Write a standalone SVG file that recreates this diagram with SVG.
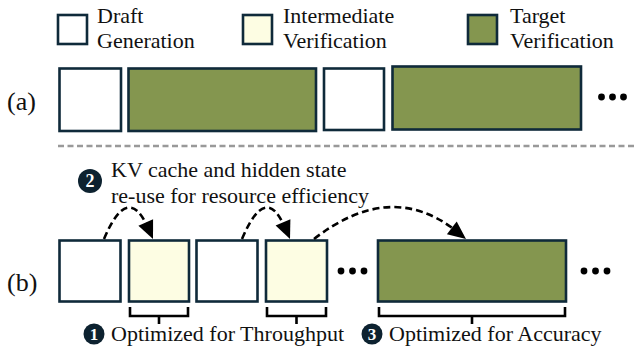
<svg xmlns="http://www.w3.org/2000/svg" width="634" height="354" viewBox="0 0 634 354">
<rect width="634" height="354" fill="#fff"/>

<g id="legend" stroke="#0f2a3a" stroke-width="2.6">
<rect x="58" y="15" width="29" height="29" fill="#ffffff"/>
<rect x="243" y="15" width="29" height="29" fill="#fdfde3"/>
<rect x="468" y="15" width="29" height="29" fill="#84964f"/>
</g>
<text x="97" y="23" font-family="Liberation Serif" font-size="22" fill="#111">Draft</text>
<text x="97" y="48" font-family="Liberation Serif" font-size="22" fill="#111">Generation</text>
<text x="283" y="23" font-family="Liberation Serif" font-size="22" fill="#111">Intermediate</text>
<text x="283" y="48" font-family="Liberation Serif" font-size="22" fill="#111">Verification</text>
<text x="510" y="23" font-family="Liberation Serif" font-size="22" fill="#111">Target</text>
<text x="510" y="48" font-family="Liberation Serif" font-size="22" fill="#111">Verification</text>

<text x="7" y="110" font-family="Liberation Serif" font-size="26" fill="#111">(a)</text>
<g id="row-a" stroke="#0f2a3a" stroke-width="2.6">
<rect id="a1" x="59.5" y="68.5" width="61.5" height="62.5" fill="#ffffff"/>
<rect id="a2" x="128.5" y="68.5" width="187.5" height="62.5" fill="#84964f"/>
<rect id="a3" x="324" y="68.5" width="60" height="61.5" fill="#ffffff"/>
<rect id="a4" x="392.5" y="66.5" width="188.5" height="63" fill="#84964f"/>
</g>
<g id="dots-a" fill="#000">
<circle cx="601.5" cy="97" r="3.4"/>
<circle cx="612.5" cy="97" r="3.4"/>
<circle cx="623.5" cy="97" r="3.4"/>
</g>

<line x1="58" y1="146" x2="634" y2="146" stroke="#999" stroke-width="2.4" stroke-dasharray="6 3.5"/>

<text x="7" y="291" font-family="Liberation Serif" font-size="26" fill="#111">(b)</text>
<g id="row-b" stroke="#0f2a3a" stroke-width="2.6">
<rect id="b1" x="59.5" y="240.5" width="61" height="61" fill="#ffffff"/>
<rect id="b2" x="129" y="240.5" width="60" height="61" fill="#fdfde3"/>
<rect id="b3" x="196.5" y="240.5" width="61" height="61" fill="#ffffff"/>
<rect id="b4" x="266" y="240.5" width="61" height="61" fill="#fdfde3"/>
<rect id="b5" x="378" y="240.5" width="188" height="61" fill="#84964f"/>
</g>
<g id="dots-b" fill="#000">
<circle cx="341" cy="271" r="3.4"/>
<circle cx="352.5" cy="271" r="3.4"/>
<circle cx="364" cy="271" r="3.4"/>
<circle cx="584" cy="271" r="3.4"/>
<circle cx="595.5" cy="271" r="3.4"/>
<circle cx="607" cy="271" r="3.4"/>
</g>

<g id="connectors">
<g fill="none" stroke="#000" stroke-width="2.6" stroke-dasharray="7 4">
<path d="M104,239 Q128,182 148,228"/>
<path d="M242,239 Q266,182 285,228"/>
<path d="M314,239 Q390,180 455,230"/>
</g>
<g fill="#000">
<polygon points="153,239 138.4,225.7 153.1,219.3"/>
<polygon points="290,239 275.6,225.5 290.4,219.3"/>
<polygon points="466,239 446.9,234.3 456.7,221.6"/>
</g>
</g>

<g id="badges" fill="#0d2230">
<circle cx="90" cy="181" r="12"/>
<circle cx="94" cy="334" r="10.5"/>
<circle cx="372" cy="334" r="10.5"/>
</g>
<text x="90" y="187" font-family="Liberation Serif" font-size="18" font-weight="bold" fill="#fff" text-anchor="middle">2</text>
<text x="111" y="177" font-family="Liberation Serif" font-size="22" fill="#111">KV cache and hidden state</text>
<text x="111" y="203" font-family="Liberation Serif" font-size="22" fill="#111">re-use for resource efficiency</text>

<g id="brackets" fill="none" stroke="#000" stroke-width="2.6">
<path d="M130,307 V316 H188 V307 M159,316 V324"/>
<path d="M267,307 V316 H326 V307 M296.5,316 V324"/>
<path d="M379,307 V316 H565 V307 M472,316 V324"/>
</g>

<text x="94" y="340" font-family="Liberation Serif" font-size="17" font-weight="bold" fill="#fff" text-anchor="middle">1</text>
<text x="111" y="341" font-family="Liberation Serif" font-size="22" fill="#111">Optimized for Throughput</text>
<text x="372" y="340" font-family="Liberation Serif" font-size="17" font-weight="bold" fill="#fff" text-anchor="middle">3</text>
<text x="389" y="341" font-family="Liberation Serif" font-size="22" fill="#111">Optimized for Accuracy</text>
</svg>
